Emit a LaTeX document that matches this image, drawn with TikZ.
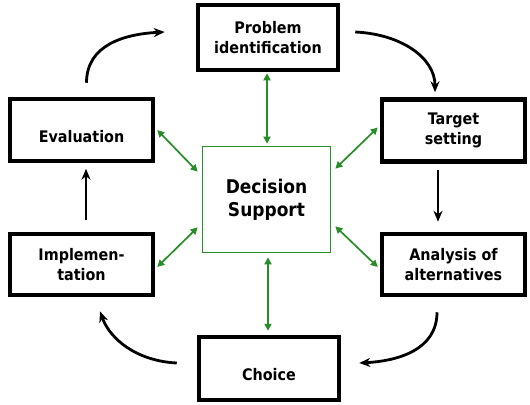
\documentclass[tikz,border=0pt]{standalone}
\usepackage{fontspec}
\setmainfont{DejaVu Sans Condensed}
\usetikzlibrary{arrows.meta,calc}
\definecolor{dsgreen}{RGB}{40,140,40}
\tikzset{
  stage/.style={draw=black, line width=4.5bp, fill=white, align=center,
    font=\fontsize{16}{20}\selectfont\bfseries, inner sep=0pt},
  lowtext/.style={text height=24bp, text depth=0bp},
  hub/.style={draw=dsgreen, line width=1.7bp, align=center,
    minimum width=128bp, minimum height=106bp,
    font=\fontsize{19}{23}\selectfont\bfseries, inner sep=0pt},
  flow/.style={line width=2.8bp, -{Stealth[length=11bp,width=9bp]}},
  link/.style={draw=dsgreen, line width=1.7bp,
    {Triangle[length=7bp,width=7bp]}-{Triangle[length=7bp,width=7bp]}},
}
\begin{document}
\begin{tikzpicture}[x=1bp, y=-1bp]
\useasboundingbox (0,0) rectangle (530,404);

% the six stages of the cycle
\node[stage, minimum width=140bp, minimum height=65bp] (prob) at (268,37.5) {Problem\\identification};
\node[stage, minimum width=143bp, minimum height=62bp] (target) at (453.5,130.5) {Target\\setting};
\node[stage, minimum width=143bp, minimum height=61bp] (analysis) at (453.5,264.5) {Analysis of\\alternatives};
\node[stage, lowtext, minimum width=140bp, minimum height=63bp] (choice) at (269,368.5) {Choice};
\node[stage, minimum width=143bp, minimum height=61bp] (impl) at (81.5,264.5) {Implemen-\\tation};
\node[stage, lowtext, minimum width=143bp, minimum height=62bp] (eval) at (81.5,130) {Evaluation};

% the central hub
\node[hub] (ds) at (266.5,199.5) {Decision\\Support};

% cycle arrows
\draw[flow] ($(eval.north)+(5,-14)$) .. controls +(0,-38) and +(-40,2) .. ($(prob.west)+(-31,-5.5)$);
\draw[flow] ($(prob.east)+(15,-5.5)$) .. controls +(45,2) and +(0,-35) .. ($(target.north)+(-18.5,-5)$);
\draw[flow] ($(target.south)+(-15.5,6)$) -- ($(analysis.north)+(-15.5,-10)$);
\draw[flow] ($(analysis.south)+(-16.5,15)$) .. controls +(0,38) and +(38,-2) .. ($(choice.east)+(18,-5.5)$);
\draw[flow] ($(choice.west)+(-20,-5.5)$) .. controls +(-40,-2) and +(10,28) .. ($(impl.south)+(18.5,14)$);
\draw[flow] ($(impl.north)+(4.5,-12)$) -- ($(eval.north)+(4.5,72)$);

% links between the hub and each stage
\draw[link] ($(prob.south)+(-1,1)$) -- ($(ds.north)+(0.5,-2)$);
\draw[link] ($(choice.north)+(-1,-4)$) -- ($(ds.south)+(1.5,4)$);
\draw[link] ($(eval.east)+(2,0)$) -- ($(ds.north west)+(-4,26)$);
\draw[link] ($(target.west)+(-2,-3)$) -- ($(ds.north east)+(4,23)$);
\draw[link] ($(impl.east)+(2,2.5)$) -- ($(ds.south west)+(-4,-26)$);
\draw[link] ($(analysis.west)+(-2,2.5)$) -- ($(ds.south east)+(4,-27)$);
\end{tikzpicture}
\end{document}
